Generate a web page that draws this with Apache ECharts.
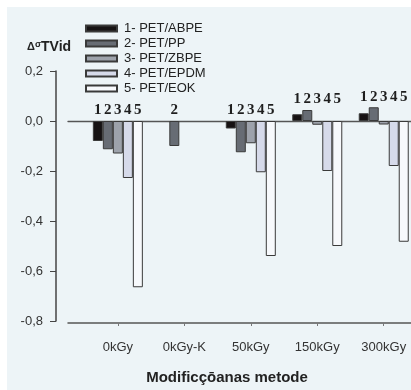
<!DOCTYPE html>
<html><head><meta charset="utf-8">
<script src="https://cdn.jsdelivr.net/npm/echarts@6/dist/echarts.min.js"></script>
<style>html,body{margin:0;padding:0;background:#fff}#c{width:411px;height:390px}</style>
</head><body><div id="c"></div>
<script>
const categories = ['0kGy', '0kGy-K', '50kGy', '150kGy', '300kGy'];
const seriesNames = ['1- PET/ABPE', '2- PET/PP', '3- PET/ZBPE', '4- PET/EPDM', '5- PET/EOK'];
const petAbpe = [-0.08, null, -0.03, 0.027, 0.031];
const petPp   = [-0.113, -0.1, -0.125, 0.044, 0.055];
const petZbpe = [-0.13, null, -0.089, -0.015, -0.014];
const petEpdm = [-0.228, null, -0.205, -0.2, -0.18];
const petEok  = [-0.665, null, -0.54, -0.5, -0.483];
const yTicks = [0.2, 0.0, -0.2, -0.4, -0.6, -0.8];

const values = [petAbpe, petPp, petZbpe, petEpdm, petEok];
const colors = ['#161213', '#676c74', '#9da2ab', '#d6daea', '#f7f9fc'];
const BAR_W = 10;
const groupTop = categories.map((c, i) => Math.max(0, ...values.map(v => v[i] == null ? 0 : v[i])));
const labelData = [];
values.forEach((vals, k) => vals.forEach((v, i) => { if (v != null) labelData.push([i, groupTop[i], k]); }));

const chart = echarts.init(document.getElementById('c'));
const series = values.map((vals, k) => ({
  type: 'bar', name: seriesNames[k], xAxisIndex: 0, yAxisIndex: 0,
  barWidth: BAR_W, barGap: '0%',
  itemStyle: { color: colors[k], borderColor: '#3a3a3a', borderWidth: 1 },
  data: vals.map((v, i) => [i, v == null ? '-' : v])
}));
series.push({
  type: 'custom', name: 'nums', xAxisIndex: 0, yAxisIndex: 0, silent: true, z: 5,
  data: labelData,
  renderItem: (params, api) => {
    const p = api.coord([api.value(0), api.value(1)]);
    const k = api.value(2);
    return { type: 'text', x: p[0] + (k - 2) * BAR_W, y: p[1] - 3,
      style: { text: String(k + 1), align: 'center', verticalAlign: 'bottom',
        font: 'bold 15px "Liberation Serif"', fill: '#1e1e1e' } };
  }
});

chart.setOption({
  animation: false,
  backgroundColor: 'transparent',
  graphic: [{ type: 'rect', left: 7, top: 7, shape: { width: 404, height: 383 }, style: { fill: '#edf4f7' }, z: -10 }],
  title: {
    text: '{a|Δ}{b|σ}{c|TVid}', left: 27, top: 40, padding: 0,
    textStyle: { rich: {
      a: { fontFamily: 'Liberation Sans', fontWeight: 'bold', fontSize: 11, color: '#222', padding: [0, 0, 1, 0] },
      b: { fontFamily: 'Liberation Sans', fontWeight: 'bold', fontSize: 9, color: '#222', padding: [0, 0, 5, 0] },
      c: { fontFamily: 'Liberation Sans', fontWeight: 'bold', fontSize: 14, color: '#222' }
    } }
  },
  legend: {
    data: seriesNames, orient: 'vertical', left: 85, top: 21, padding: 0,
    itemWidth: 31, itemHeight: 6, itemGap: 0, icon: 'rect',
    textStyle: { fontFamily: 'Liberation Sans', fontSize: 13, color: '#222', lineHeight: 15, padding: [0, 0, 0, 2] }
  },
  grid: [
    { left: 68, right: 0, top: 71, bottom: 69 },
    { left: 68, right: 0, top: 71, bottom: 56 }
  ],
  xAxis: [
    { type: 'value', gridIndex: 0, min: -0.75, max: 4.41,
      axisLine: { show: true, onZero: true, lineStyle: { color: '#555', width: 1.3 } },
      axisTick: { show: false }, axisLabel: { show: false }, splitLine: { show: false } },
    { type: 'value', gridIndex: 1, min: -0.75, max: 4.41,
      axisLine: { show: true, onZero: false, lineStyle: { color: '#555', width: 1.5 } },
      axisTick: { show: true, length: 3, customValues: categories.map((c, i) => i), lineStyle: { color: '#777' } },
      axisLabel: { show: true, customValues: categories.map((c, i) => i), formatter: v => categories[Math.round(v)],
        margin: 18, fontFamily: 'Liberation Sans', fontSize: 13, color: '#333' },
      splitLine: { show: false },
      name: 'Modificçōanas metode', nameLocation: 'middle', nameGap: 47,
      nameTextStyle: { fontFamily: 'Liberation Sans', fontWeight: 'bold', fontSize: 15, color: '#222', padding: [0, 25, 0, 0] } }
  ],
  yAxis: [
    { type: 'value', gridIndex: 0, min: -0.8, max: 0.2, interval: 0.2, offset: 12,
      axisLine: { show: true, onZero: false, lineStyle: { color: '#444', width: 1.5 } },
      axisTick: { show: true, length: 6, lineStyle: { color: '#444' } },
      axisLabel: { margin: 13, fontFamily: 'Liberation Sans', fontSize: 13, color: '#333',
        customValues: yTicks, formatter: v => v.toFixed(1).replace('.', ',') },
      splitLine: { show: false } },
    { type: 'value', gridIndex: 1, show: false, min: -1, max: 1 }
  ],
  series: series
});
</script></body></html>
